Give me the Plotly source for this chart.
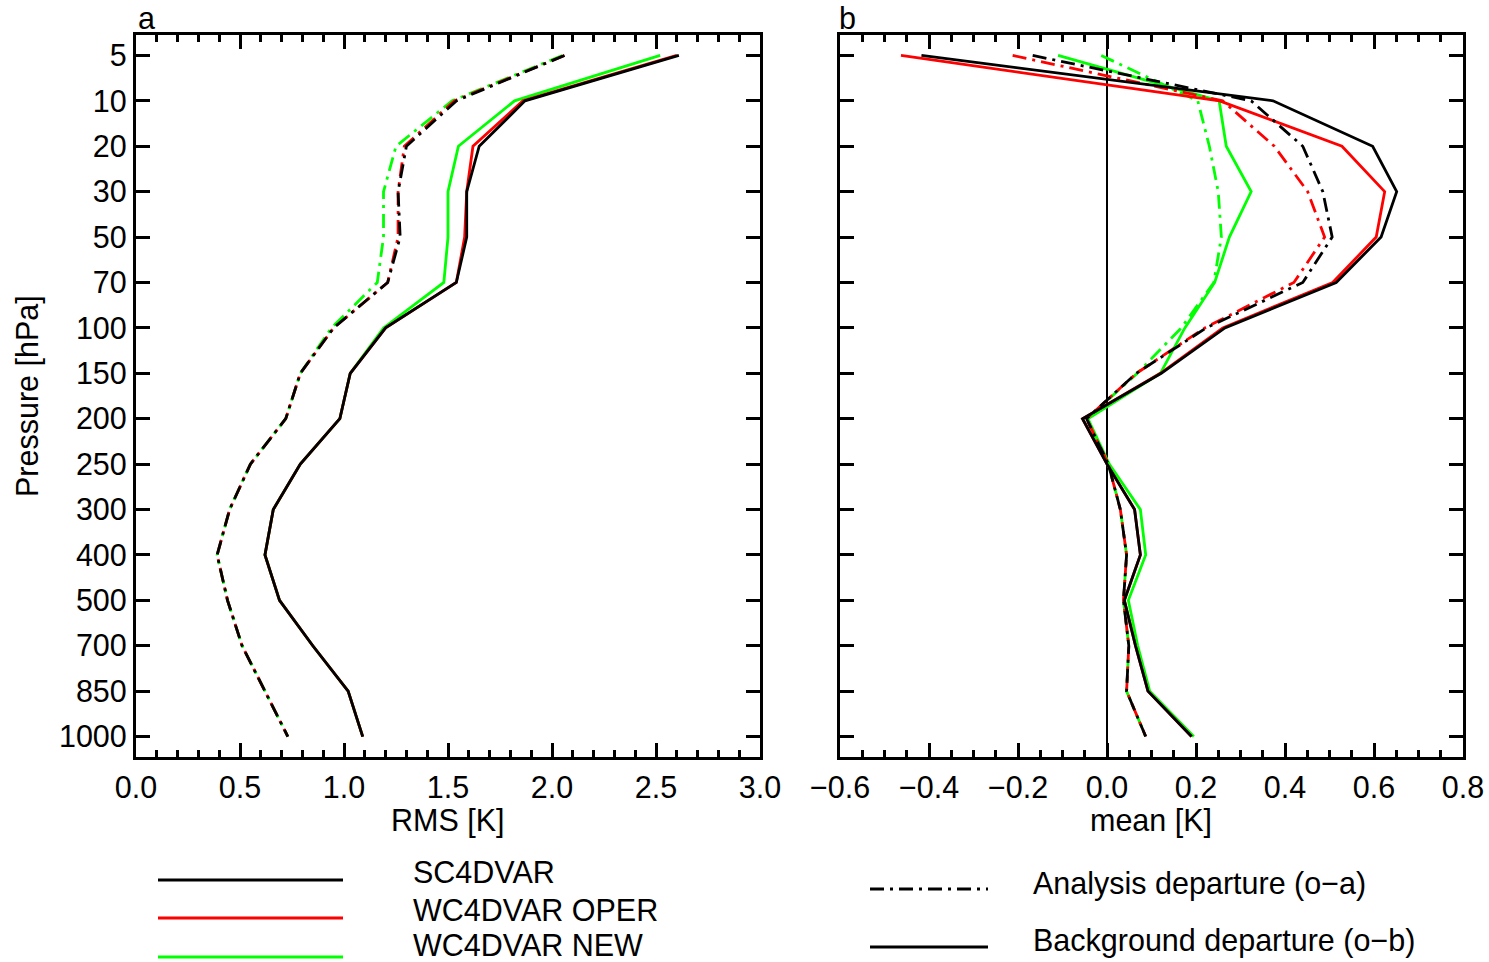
import plotly.graph_objects as go

# Pressure levels (hPa), top to bottom
levels = ["5", "10", "20", "30", "50", "70", "100", "150", "200",
          "250", "300", "400", "500", "700", "850", "1000"]

# RMS of background departures (o-b) [K]
rms_ob_sc = [2.61, 1.87, 1.65, 1.59, 1.59, 1.54, 1.20, 1.03, 0.98, 0.79, 0.66, 0.62, 0.69, 0.85, 1.02, 1.09]
rms_ob_oper = [2.60, 1.86, 1.62, 1.59, 1.58, 1.54, 1.20, 1.03, 0.98, 0.79, 0.66, 0.62, 0.69, 0.85, 1.02, 1.09]
rms_ob_new = [2.52, 1.82, 1.55, 1.50, 1.50, 1.48, 1.19, 1.03, 0.98, 0.79, 0.66, 0.62, 0.69, 0.85, 1.02, 1.09]

# RMS of analysis departures (o-a) [K]
rms_oa_sc = [2.06, 1.54, 1.30, 1.26, 1.27, 1.21, 0.95, 0.79, 0.72, 0.55, 0.45, 0.39, 0.44, 0.51, 0.62, 0.73]
rms_oa_oper = [2.06, 1.53, 1.29, 1.26, 1.26, 1.21, 0.95, 0.79, 0.72, 0.55, 0.45, 0.39, 0.44, 0.51, 0.62, 0.73]
rms_oa_new = [2.05, 1.52, 1.25, 1.19, 1.19, 1.16, 0.94, 0.79, 0.72, 0.55, 0.45, 0.39, 0.44, 0.51, 0.62, 0.73]

# Mean background departures (o-b) [K]
mean_ob_sc = [-0.417, 0.373, 0.597, 0.651, 0.616, 0.515, 0.265, 0.122, -0.055, 0.0, 0.062, 0.075, 0.039, 0.064, 0.092, 0.19]
mean_ob_oper = [-0.463, 0.253, 0.528, 0.624, 0.605, 0.507, 0.26, 0.12, -0.055, 0.0, 0.062, 0.075, 0.039, 0.064, 0.092, 0.19]
mean_ob_new = [-0.11, 0.252, 0.268, 0.324, 0.275, 0.242, 0.175, 0.12, -0.043, 0.005, 0.075, 0.087, 0.048, 0.069, 0.096, 0.195]

# Mean analysis departures (o-a) [K]
mean_oa_sc = [-0.167, 0.324, 0.44, 0.485, 0.506, 0.44, 0.223, 0.066, -0.046, 0.003, 0.03, 0.044, 0.037, 0.049, 0.044, 0.087]
mean_oa_oper = [-0.212, 0.26, 0.376, 0.451, 0.489, 0.42, 0.22, 0.066, -0.046, 0.003, 0.03, 0.044, 0.037, 0.049, 0.044, 0.087]
mean_oa_new = [-0.013, 0.204, 0.23, 0.25, 0.257, 0.24, 0.167, 0.068, -0.045, 0.003, 0.03, 0.044, 0.037, 0.049, 0.044, 0.087]

experiments = ["SC4DVAR", "WC4DVAR OPER", "WC4DVAR NEW"]
colors = {"SC4DVAR": "#000000", "WC4DVAR OPER": "#ff0000", "WC4DVAR NEW": "#00ff00"}
DASHDOT = "14px,6px,3px,6px"
LW = 2.8

W, H = 1489, 962
FONT = "Liberation Sans, Arial, Helvetica, sans-serif"
FS = 30.5


def px(x):
    return x / W


def py(y):
    return 1 - y / H


fig = go.Figure()

series = {
    "SC4DVAR": (rms_ob_sc, rms_oa_sc, mean_ob_sc, mean_oa_sc),
    "WC4DVAR OPER": (rms_ob_oper, rms_oa_oper, mean_ob_oper, mean_oa_oper),
    "WC4DVAR NEW": (rms_ob_new, rms_oa_new, mean_ob_new, mean_oa_new),
}

# draw green first, black last so black sits on top
for name in ["WC4DVAR NEW", "WC4DVAR OPER", "SC4DVAR"]:
    rob, roa, mob, moa = series[name]
    c = colors[name]
    fig.add_trace(go.Scatter(x=roa, y=levels, mode="lines", xaxis="x", yaxis="y",
                             line=dict(color=c, width=LW, dash=DASHDOT), showlegend=False))
    fig.add_trace(go.Scatter(x=rob, y=levels, mode="lines", xaxis="x", yaxis="y",
                             line=dict(color=c, width=LW), showlegend=False))
    fig.add_trace(go.Scatter(x=moa, y=levels, mode="lines", xaxis="x2", yaxis="y2",
                             line=dict(color=c, width=LW, dash=DASHDOT), showlegend=False))
    fig.add_trace(go.Scatter(x=mob, y=levels, mode="lines", xaxis="x2", yaxis="y2",
                             line=dict(color=c, width=LW), showlegend=False))

axis_common = dict(
    showline=True, linewidth=3.2, linecolor="black", mirror="allticks",
    ticks="inside", tickwidth=3, tickcolor="black", ticklen=14,
    showgrid=False, automargin=False,
    tickfont=dict(family=FONT, size=FS, color="black"),
)

ydom = [py(757), py(35)]
yrange = [15.45, -0.45]

fig.update_layout(
    width=W, height=H,
    margin=dict(l=0, r=0, t=0, b=0),
    paper_bgcolor="white", plot_bgcolor="white",
    font=dict(family=FONT, size=FS, color="black"),
    showlegend=False,
    xaxis=dict(domain=[px(136), px(760)], range=[0, 3], dtick=0.5, tick0=0,
               tickformat=".1f", zeroline=False, anchor="y",
               minor=dict(dtick=0.1, ticklen=7, tickwidth=3, tickcolor="black", ticks="inside"),
               ticklabelstandoff=1, **axis_common),
    yaxis=dict(domain=ydom, type="category", categoryarray=levels, range=yrange,
               anchor="x", ticklabelstandoff=0, **axis_common),
    xaxis2=dict(domain=[px(840), px(1463)], range=[-0.6, 0.8], dtick=0.2, tick0=0,
                tickformat=".1f", anchor="y2",
                zeroline=True, zerolinecolor="black", zerolinewidth=1.6,
                minor=dict(dtick=0.05, ticklen=7, tickwidth=3, tickcolor="black", ticks="inside"),
                ticklabelstandoff=1, **axis_common),
    yaxis2=dict(domain=ydom, type="category", categoryarray=levels, range=yrange,
                anchor="x2", showticklabels=False, **axis_common),
)

annotations = [
    dict(text="a", x=px(146), y=py(18), xanchor="center", yanchor="middle"),
    dict(text="b", x=px(848), y=py(18), xanchor="center", yanchor="middle"),
    dict(text="RMS [K]", x=px(448), y=py(820), xanchor="center", yanchor="middle"),
    dict(text="mean [K]", x=px(1151), y=py(820), xanchor="center", yanchor="middle"),
    dict(text="Pressure [hPa]", x=px(27), y=py(396), xanchor="center", yanchor="middle", textangle=-90),
]

# legend: experiment colours (left) and line styles (right)
legend_rows = [(880, 872), (918, 910), (957, 945)]
for name, (ly, ty) in zip(experiments, legend_rows):
    fig.add_shape(type="line", xref="paper", yref="paper",
                  x0=px(158), x1=px(343), y0=py(ly), y1=py(ly),
                  line=dict(color=colors[name], width=LW))
    annotations.append(dict(text=name, x=px(411), y=py(ty), xanchor="left", yanchor="middle"))

style_rows = [("Analysis departure (o\u2212a)", DASHDOT, 889, 883),
              ("Background departure (o\u2212b)", "solid", 947, 940)]
for label, dash, ly, ty in style_rows:
    fig.add_shape(type="line", xref="paper", yref="paper",
                  x0=px(870), x1=px(988), y0=py(ly), y1=py(ly),
                  line=dict(color="black", width=LW, dash=dash))
    annotations.append(dict(text=label, x=px(1031), y=py(ty), xanchor="left", yanchor="middle"))

for a in annotations:
    a.update(xref="paper", yref="paper", showarrow=False,
             font=dict(family=FONT, size=FS, color="black"))
fig.update_layout(annotations=annotations)

fig.write_html("out.html")
